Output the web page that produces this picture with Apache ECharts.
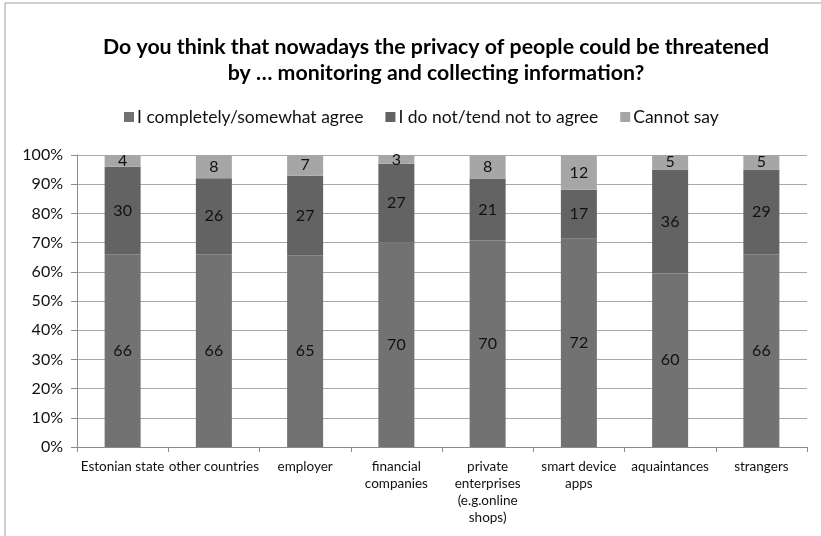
<!DOCTYPE html>
<html><head><meta charset="utf-8">
<script src="https://cdn.jsdelivr.net/npm/echarts@6/dist/echarts.min.js"></script>
<style>html,body{margin:0;padding:0;background:#fff}#c{width:821px;height:536px}</style>
</head><body><div id="c"></div>
<script>
const categories = ["Estonian state","other countries","employer","financial\ncompanies","private\nenterprises\n(e.g.online\nshops)","smart device\napps","aquaintances","strangers"];
const agree = [66,66,65,70,70,72,60,66];
const disagree = [30,26,27,27,21,17,36,29];
const cannotSay = [4,8,7,3,8,12,5,5];
const seriesNames = ["I completely/somewhat agree","I do not/tend not to agree","Cannot say"];
const yTicks = ["0%","10%","20%","30%","40%","50%","60%","70%","80%","90%","100%"];

const totals = agree.map((v,i)=>v+disagree[i]+cannotSay[i]);
const font = "Lato, 'Open Sans', sans-serif";
const colors = ["#727272","#636363","#a6a6a6"];
function mk(name, arr, color){
  return {
    name, type:'bar', stack:'s', barWidth:36,
    itemStyle:{color},
    data: arr.map((v,i)=>({value:v/totals[i], raw:v})),
    label:{show:true, position:'inside', color:'#111', fontFamily:font, fontSize:16,
      formatter:p=>String(p.data.raw)}
  };
}
const chart = echarts.init(document.getElementById('c'), null, {renderer:'canvas'});
chart.setOption({
  animation:false,
  backgroundColor:'#fff',
  graphic:[{type:'rect', shape:{x:5,y:3,width:830,height:540}, style:{fill:'none', stroke:'#a0a0a0', lineWidth:1}}],
  title:{
    text:"Do you think that nowadays the privacy of people could be threatened\nby … monitoring and collecting information?",
    left:431, top:29, textAlign:'center',
    textStyle:{fontFamily:font, fontWeight:'bold', fontSize:21.3, lineHeight:26, color:'#000'}
  },
  legend:{
    top:103, left:119, itemWidth:10, itemHeight:10, itemGap:22,
    icon:'rect',
    textStyle:{fontFamily:font, fontSize:17.5, color:'#111', padding:[0,0,0,-2]},
    data:seriesNames
  },
  grid:{left:77, right:14, top:155, bottom:89, containLabel:false},
  xAxis:{
    type:'category', data:categories,
    axisLine:{lineStyle:{color:'#8a8a8a'}},
    axisTick:{show:true, length:5, lineStyle:{color:'#8a8a8a'}},
    axisLabel:{fontFamily:font, fontSize:13.5, color:'#111', interval:0, margin:11, lineHeight:17}
  },
  yAxis:{
    type:'value', min:0, max:1, interval:0.1,
    axisLine:{show:true, lineStyle:{color:'#8a8a8a'}},
    axisTick:{show:true, length:6, lineStyle:{color:'#8a8a8a'}},
    splitLine:{lineStyle:{color:'#a8a8a8'}},
    axisLabel:{fontFamily:font, fontSize:16, color:'#111', margin:14,
      formatter:v=>yTicks[Math.round(v*10)]}
  },
  series:[mk(seriesNames[0],agree,colors[0]), mk(seriesNames[1],disagree,colors[1]), mk(seriesNames[2],cannotSay,colors[2])]
});
</script></body></html>
